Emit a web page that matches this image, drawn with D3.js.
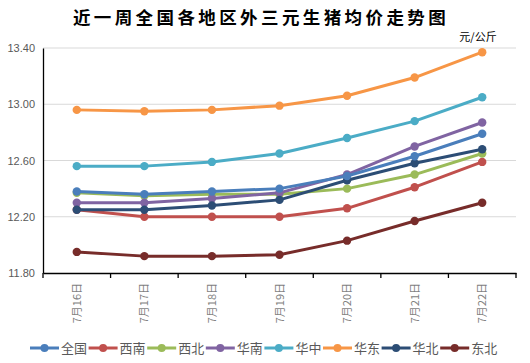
<!DOCTYPE html>
<html><head><meta charset="utf-8">
<script src="https://cdn.jsdelivr.net/npm/d3@7"></script>
<style>
html,body{margin:0;padding:0;background:#fff;}
svg{display:block;}
</style></head>
<body>
<svg id="chart" width="530" height="363"></svg>
<script>
const categories = ["7月16日","7月17日","7月18日","7月19日","7月20日","7月21日","7月22日"];
const seriesNames = ["全国","西南","西北","华南","华中","华东","华北","东北"];
const seriesColors = ["#4A7EBB","#C0504D","#9BBB59","#8064A2","#4BACC6","#F79646","#2C4D75","#772C2A"];
const quanguo = [12.38,12.36,12.38,12.40,12.49,12.63,12.79];
const xinan   = [12.25,12.20,12.20,12.20,12.26,12.41,12.59];
const xibei   = [12.37,12.35,12.36,12.36,12.40,12.50,12.65];
const huanan  = [12.30,12.30,12.33,12.37,12.50,12.70,12.87];
const huazhong= [12.56,12.56,12.59,12.65,12.76,12.88,13.05];
const huadong = [12.96,12.95,12.96,12.99,13.06,13.19,13.37];
const huabei  = [12.25,12.25,12.28,12.32,12.46,12.58,12.68];
const dongbei = [11.95,11.92,11.92,11.93,12.03,12.17,12.30];
const yTicks = [11.80,12.20,12.60,13.00,13.40];
const title = "近一周全国各地区外三元生猪均价走势图";
const unit = "元/公斤";

(function(){
const seriesValues = [quanguo,xinan,xibei,huanan,huazhong,huadong,huabei,dongbei];
const series = seriesNames.map((n,i)=>({name:n,color:seriesColors[i],values:seriesValues[i]}));
const drawOrder = [7,1,2,3,6,0,4,5];

const svg = d3.select("#chart");
const font = "'Noto Sans CJK SC','Microsoft YaHei',sans-serif";
const pL=43,pR=516,pT=48,pB=273;

const x = d3.scaleBand().domain(categories).range([pL,pR]);
const y = d3.scaleLinear().domain([11.80,13.40]).range([pB,pT]);

svg.append("text").attr("x",261).attr("y",24).attr("text-anchor","middle")
  .attr("font-family","'Noto Sans CJK SC',serif").attr("font-weight","bold")
  .attr("font-size",17.5).attr("fill","#000").attr("letter-spacing","3.4").text(title);
svg.append("text").attr("x",478).attr("y",41).attr("text-anchor","middle")
  .attr("font-family",font).attr("font-size",11).attr("fill","#000").text(unit);

svg.append("g").selectAll("line").data(yTicks.slice(1)).join("line")
  .attr("x1",pL).attr("x2",pR).attr("y1",d=>y(d)).attr("y2",d=>y(d))
  .attr("stroke","#d9d9d9").attr("stroke-width",1);

const yAxis = svg.append("g").attr("transform",`translate(${pL},0)`)
  .call(d3.axisLeft(y).tickValues(yTicks).tickFormat(d3.format(".2f")).tickSize(0).tickPadding(8));
yAxis.select(".domain").attr("stroke","#000").attr("stroke-width",1.3);
yAxis.selectAll("text").attr("font-family","'Liberation Sans',Arial,sans-serif").attr("font-size",11).attr("fill","#595959");

const xAxis = svg.append("g").attr("transform",`translate(0,${pB})`)
  .call(d3.axisBottom(x).tickSize(0).tickFormat(""));
xAxis.select(".domain").attr("stroke","#000").attr("stroke-width",1.5);
const bounds = categories.map(c=>x(c)).concat([pR]);
svg.append("g").selectAll("line").data(bounds).join("line")
  .attr("x1",d=>d).attr("x2",d=>d).attr("y1",pB).attr("y2",pB+5)
  .attr("stroke","#000").attr("stroke-width",1.3);
svg.append("g").selectAll("text").data(categories).join("text")
  .attr("transform",d=>`translate(${x(d)+x.bandwidth()/2+4},${pB+10}) rotate(-90)`)
  .attr("text-anchor","end").attr("font-family",font).attr("font-size",11).attr("fill","#7f7f7f")
  .text(d=>d);

const line = d3.line().x((d,i)=>x(categories[i])+x.bandwidth()/2).y(d=>y(d));
const g = svg.append("g");
drawOrder.forEach(idx=>{
  const s = series[idx];
  g.append("path").attr("d",line(s.values)).attr("fill","none")
    .attr("stroke",s.color).attr("stroke-width",3).attr("stroke-linejoin","round");
  g.selectAll(null).data(s.values).join("circle")
    .attr("cx",(d,i)=>x(categories[i])+x.bandwidth()/2).attr("cy",d=>y(d)).attr("r",4.2)
    .attr("fill",s.color);
});

const leg = svg.append("g");
const step = 58.6, lx0 = 30, ly = 348;
series.forEach((s,i)=>{
  const gx = lx0 + i*step;
  leg.append("line").attr("x1",gx).attr("x2",gx+29).attr("y1",ly).attr("y2",ly)
    .attr("stroke",s.color).attr("stroke-width",3);
  leg.append("circle").attr("cx",gx+14.5).attr("cy",ly).attr("r",4).attr("fill",s.color);
  leg.append("text").attr("x",gx+31).attr("y",ly+4.5).attr("font-family",font)
    .attr("font-size",13).attr("fill","#595959").text(s.name);
});
})();
</script>
</body></html>
